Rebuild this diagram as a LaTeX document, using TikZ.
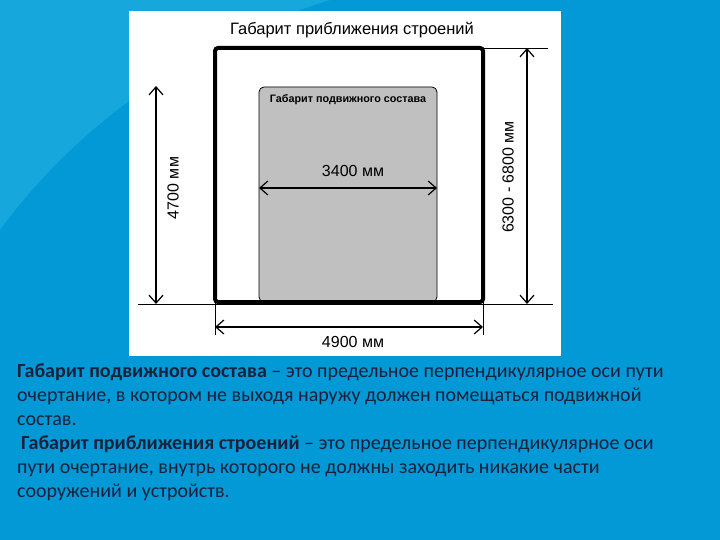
\documentclass[tikz,border=0pt]{standalone}
\usepackage{fontspec}
\setmainfont{Liberation Sans}
\newfontfamily\bodyfont{Carlito}
\usetikzlibrary{arrows.meta,positioning}
\definecolor{slideblue}{RGB}{3,152,214}
\definecolor{slidecyan}{RGB}{60,200,235}
\definecolor{stockgray}{RGB}{192,192,192}
\definecolor{bodyink}{RGB}{24,34,60}

\begin{document}
\begin{tikzpicture}[x=1pt, y=-1pt,
    dimline/.style={line width=1.2pt, {Straight Barb[length=8pt,width=14pt]}-{Straight Barb[length=8pt,width=14pt]}},
    extline/.style={line width=0.9pt},
    dimlabel/.style={font=\fontsize{16}{18}\selectfont, inner sep=0pt},
    bodyline/.style={anchor=base west, font=\bodyfont\fontsize{20}{24}\selectfont, text=bodyink, inner sep=0pt}]
    \useasboundingbox (0,0) rectangle (720,540);

    % Slide background
    \fill[slideblue] (0,0) rectangle (720,540);
    \fill[slidecyan, opacity=0.35] (0,0) -- (330,0) .. controls (200,40) and (80,120) .. (0,230) -- cycle;
    \fill[white] (129,11) rectangle (561,356);

    % Clearance gauges
    \node[draw=black, line width=0.8pt, fill=stockgray, rounded corners=5pt, outer sep=0pt,
          minimum width=178pt, minimum height=215pt] (stock) at (348,194.5) {};
    \node[draw=black, line width=4pt, rounded corners=3pt, outer sep=0pt,
          minimum width=268pt, minimum height=254pt] (build) at (349,175) {};

    \node[font=\fontsize{16.5}{18}\selectfont] (buildtitle) at (352,30) {Габарит приближения строений};
    \node[font=\bfseries\fontsize{10.8}{12}\selectfont, below=4pt of stock.north] (stocktitle) {Габарит подвижного состава};

    % Extension lines
    \coordinate (baseL) at (138,304);
    \coordinate (baseR) at (553,304);
    \draw[extline] (baseL) -- (baseR);
    \coordinate (topR) at (548,48);
    \draw[extline] (build.north east) -- (topR);
    \coordinate (extL) at (215,335);
    \coordinate (extR) at (483,335);
    \draw[extline] (build.south west) -- (extL);
    \draw[extline] (build.south east) -- (extR);

    % Dimensions
    \coordinate (hTop) at (156,86);
    \coordinate (hBot) at (156,304);
    \draw[dimline] (hTop) -- (hBot);
    \node[dimlabel, rotate=90] (h4700) at (173,188) {4700 мм};

    \coordinate (HTop) at (527,48);
    \coordinate (HBot) at (527,304);
    \draw[dimline] (HTop) -- (HBot);
    \node[dimlabel, rotate=90] (h6300) at (508,177) {6300 - 6800 мм};

    \coordinate (wL) at (259,188);
    \coordinate (wR) at (437,188);
    \draw[dimline] (wL) -- (wR);
    \node[dimlabel] (w3400) at (353,171) {3400 мм};

    \coordinate (WL) at (215,327);
    \coordinate (WR) at (483,327);
    \draw[dimline] (WL) -- (WR);
    \node[dimlabel] (w4900) at (353,342) {4900 мм};

    % Definitions
    \node[bodyline] (line1) at (17,377) {\textbf{Габарит подвижного состава} – это предельное перпендикулярное оси пути};
    \node[bodyline] (line2) at (17,401) {очертание, в котором не выходя наружу должен помещаться подвижной};
    \node[bodyline] (line3) at (17,425) {состав.};
    \node[bodyline] (line4) at (17,449) {\hspace{4pt}\textbf{Габарит приближения строений} – это предельное перпендикулярное оси};
    \node[bodyline] (line5) at (17,473) {пути очертание, внутрь которого не должны заходить никакие части};
    \node[bodyline] (line6) at (17,497) {сооружений и устройств.};
\end{tikzpicture}
\end{document}
